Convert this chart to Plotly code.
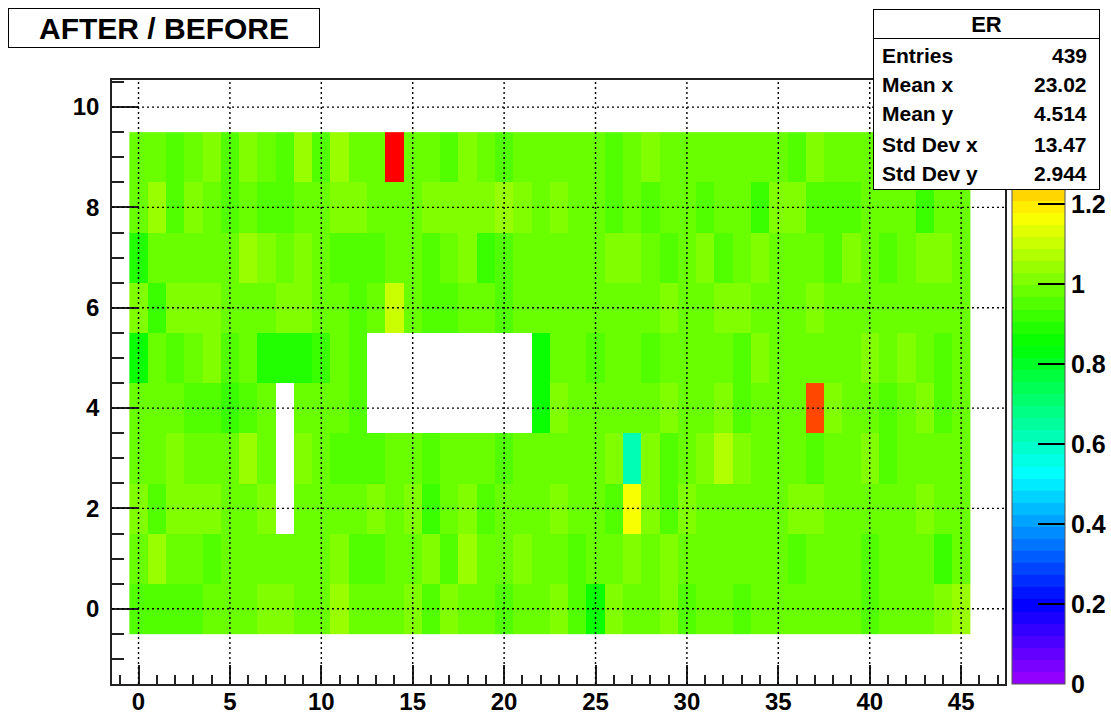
import colorsys
import plotly.graph_objects as go

# ---------------- data ----------------
N = None
x_bins = list(range(46))          # bin centres 0..45
y_bins = list(range(10))          # bin centres 0..9

r0 = [0.95,0.95,0.95,0.95,0.98,0.98,0.98,1.01,1.01,0.98,0.98,1.04,0.98,0.98,0.98,1.01,0.95,1.01,0.98,0.98,0.95,0.98,0.98,
      1.01,0.95,0.86,1.01,0.98,0.98,1.01,0.95,0.98,0.98,0.95,0.98,0.98,0.98,0.98,0.98,0.98,0.95,0.98,0.98,0.98,1.01,1.04]
r1 = [0.98,1.04,0.98,0.98,0.95,0.98,0.98,0.98,0.98,0.98,0.98,1.01,0.95,0.95,0.98,0.98,1.01,0.95,1.04,0.98,0.98,1.01,0.98,
      0.98,0.95,0.98,0.98,1.01,0.98,1.01,0.98,0.98,0.98,0.98,0.98,0.98,0.95,0.98,0.98,0.98,0.95,0.98,0.98,0.98,0.92,0.98]
r2 = [1.01,0.95,1.01,1.01,1.01,0.98,0.98,1.01,N,0.98,0.98,0.98,0.98,1.01,0.98,1.01,0.92,0.98,1.01,0.95,0.98,0.98,0.98,
      1.01,0.98,0.98,0.95,1.16,1.01,0.95,1.01,0.98,0.98,0.98,0.98,0.98,1.01,1.01,0.98,0.98,0.98,0.98,0.98,1.01,0.98,0.98]
r3 = [0.98,0.98,1.01,0.98,0.98,0.98,1.04,0.98,N,1.01,0.98,0.95,0.95,0.95,0.98,0.98,0.95,0.98,0.98,0.98,0.95,0.98,0.98,
      0.98,0.98,0.98,1.01,0.62,1.01,0.95,0.98,1.01,1.07,1.01,0.98,0.98,0.98,0.95,0.98,0.98,1.01,0.95,0.98,0.98,0.98,0.98]
r4 = [0.98,0.98,0.98,0.95,0.95,0.92,0.95,0.98,N,0.98,0.98,0.98,0.95,N,N,N,N,N,N,N,N,N,0.86,
      1.01,0.98,0.98,0.98,0.98,0.98,1.01,0.98,0.98,1.01,0.95,0.98,0.98,0.98,1.41,1.01,0.98,0.98,0.95,0.98,1.01,0.95,0.98]
r5 = [0.86,0.98,0.95,0.98,1.01,0.95,0.98,0.89,0.89,0.89,0.92,0.98,0.95,N,N,N,N,N,N,N,N,N,0.86,
      0.98,0.98,0.95,0.98,0.98,0.95,0.98,0.98,0.98,0.98,0.95,1.01,0.98,0.98,0.98,0.98,0.98,1.01,0.98,1.01,0.98,0.95,0.98]
r6 = [1.01,0.92,1.01,1.01,1.01,0.98,0.98,0.98,1.01,1.01,0.98,0.98,0.95,0.98,1.10,0.98,0.95,0.95,0.98,0.98,0.95,0.98,0.98,
      0.98,0.98,0.98,0.98,0.98,0.98,1.01,0.98,0.98,1.01,1.01,0.98,0.98,0.98,1.01,0.98,0.98,0.98,0.98,0.98,0.98,0.98,0.98]
r7 = [0.89,0.98,0.98,0.98,0.98,0.98,1.04,1.01,0.98,1.01,0.98,0.95,0.95,0.95,0.98,0.98,0.95,0.98,1.01,0.92,0.95,0.98,0.98,
      0.98,0.98,0.98,1.01,1.01,0.98,0.95,0.98,1.01,0.95,0.98,1.01,0.98,0.98,0.98,0.95,1.01,0.98,0.95,0.98,1.01,1.01,0.98]
r8 = [0.98,1.04,0.95,1.01,0.98,0.95,0.98,0.95,0.95,0.98,0.98,1.01,1.01,0.98,0.98,0.98,1.01,1.01,1.01,1.01,1.04,1.01,0.98,
      1.01,0.98,0.98,0.95,0.98,0.95,0.98,0.98,0.95,0.98,0.98,0.92,1.01,1.01,0.95,0.95,0.95,0.98,0.98,0.98,0.92,0.98,0.98]
r9 = [0.98,0.98,0.95,0.98,1.01,0.95,1.01,0.98,0.95,1.04,0.95,1.04,0.98,0.98,1.51,0.98,0.98,0.95,1.01,0.98,0.95,0.98,0.98,
      0.98,0.98,0.98,0.95,0.98,1.01,0.98,0.98,0.98,0.98,0.98,0.98,0.98,0.95,1.01,0.98,0.98,0.98,1.01,0.98,0.98,0.95,0.98]
z_rows = [r0, r1, r2, r3, r4, r5, r6, r7, r8, r9]
for r in z_rows:
    assert len(r) == 46, len(r)

x_ticks = [0, 5, 10, 15, 20, 25, 30, 35, 40, 45]
y_ticks = [0, 2, 4, 6, 8, 10]
cb_ticks = [0, 0.2, 0.4, 0.6, 0.8, 1.0, 1.2]
cb_text = ["0", "0.2", "0.4", "0.6", "0.8", "1", "1.2"]

title_text = "AFTER / BEFORE"
stats_title = "ER"
stat_labels = ["Entries", "Mean x", "Mean y", "Std Dev x", "Std Dev y"]
stat_values = ["439", "23.02", "4.514", "13.47", "2.944"]

# ---------------- style ----------------
FONT = "Liberation Sans"
W, H = 1111, 714
PL, PR, PT, PB = 112, 1005, 80, 684          # plot frame in pixels
XR = [-1.45, 47.4]
YR = [-1.5, 10.54]

def px2x(px):
    return (px - PL) / (PR - PL)

def py2y(py):
    return (PB - py) / (PB - PT)

# ROOT "pretty" palette (SetPalette(1)): 50 colours, hue 280 -> 0
palette = []
for k in range(49):
    h = 280 - (k + 1) * (280 / 50)
    r, g, b = colorsys.hls_to_rgb(h / 360.0, 0.5, 1.0)
    palette.append(f"rgb({round(r*255)},{round(g*255)},{round(b*255)})")
palette.append("rgb(255,0,0)")
colorscale = []
for k, c in enumerate(palette):
    colorscale.append([k / 50, c])
    colorscale.append([(k + 1) / 50, c])

zmax = max(v for row in z_rows for v in row if v is not None)

fig = go.Figure()
fig.add_trace(go.Heatmap(
    x=x_bins, y=y_bins, z=z_rows,
    zmin=0, zmax=zmax, colorscale=colorscale,
    xgap=0, ygap=0, hoverongaps=False,
    colorbar=dict(
        x=px2x(1012), xanchor="left", y=0, yanchor="bottom",
        len=1, lenmode="fraction", thickness=53, thicknessmode="pixels",
        xpad=0, ypad=0, outlinewidth=1, outlinecolor="#555",
        ticks="inside", ticklen=27, tickwidth=1.5, tickcolor="black",
        tickvals=cb_ticks, ticktext=cb_text,
        tickfont=dict(family=FONT, size=25, color="black", weight="bold"),
    ),
))

# dotted grid drawn over the cells (as ROOT does)
shapes = []
grid_line = dict(color="black", width=1.4, dash="2px,3px")
for xv in x_ticks:
    shapes.append(dict(type="line", xref="x", yref="paper", x0=xv, x1=xv, y0=0, y1=1,
                       line=grid_line, layer="above"))
for yv in y_ticks:
    shapes.append(dict(type="line", xref="paper", yref="y", x0=0, x1=1, y0=yv, y1=yv,
                       line=grid_line, layer="above"))

ann = []
# title pave
ann.append(dict(xref="paper", yref="paper", x=px2x(8), y=py2y(8), xanchor="left", yanchor="top",
                text=title_text, showarrow=False, width=310, height=38, align="center", valign="middle",
                bgcolor="white", bordercolor="black", borderwidth=1, borderpad=0,
                font=dict(family=FONT, size=30, color="black", weight="bold")))
# stats box
ann.append(dict(xref="paper", yref="paper", x=px2x(873), y=py2y(9), xanchor="left", yanchor="top",
                text=" ", showarrow=False, width=225, height=179,
                bgcolor="white", bordercolor="black", borderwidth=1, borderpad=0))
ann.append(dict(xref="paper", yref="paper", x=px2x(873), y=py2y(9), xanchor="left", yanchor="top",
                text=stats_title, showarrow=False, width=225, height=28, align="center", valign="middle",
                bordercolor="black", borderwidth=1, borderpad=0,
                font=dict(family=FONT, size=22, color="black", weight="bold")))
row_centres = [55, 84.5, 114, 144, 173.5]
for lab, val, yc in zip(stat_labels, stat_values, row_centres):
    ann.append(dict(xref="paper", yref="paper", x=px2x(880), y=py2y(yc), xanchor="left", yanchor="middle",
                    text=lab, showarrow=False,
                    font=dict(family=FONT, size=21, color="black", weight="bold")))
    ann.append(dict(xref="paper", yref="paper", x=px2x(1089), y=py2y(yc), xanchor="right", yanchor="middle",
                    text=val, showarrow=False,
                    font=dict(family=FONT, size=21, color="black", weight="bold")))

axis_common = dict(
    showgrid=False, zeroline=False, showline=True, mirror=True,
    linecolor="#222", linewidth=1.5, ticks="inside", tickcolor="#222", tickwidth=1.5,
    tickfont=dict(family=FONT, size=24, color="black", weight="bold"),
)
fig.update_layout(
    width=W, height=H,
    margin=dict(l=PL, r=W - PR, t=PT, b=H - PB, autoexpand=False),
    paper_bgcolor="white", plot_bgcolor="white",
    showlegend=False,
    xaxis=dict(range=XR, tickvals=x_ticks, ticklen=19, ticklabelstandoff=-5,
               minor=dict(dtick=1, tick0=0, ticks="inside", ticklen=9, tickcolor="#222", tickwidth=1.5),
               **axis_common),
    yaxis=dict(range=YR, tickvals=y_ticks, ticklen=27, ticklabelstandoff=6,
               minor=dict(dtick=0.5, tick0=0, ticks="inside", ticklen=12, tickcolor="#222", tickwidth=1.5),
               **axis_common),
    shapes=shapes,
    annotations=ann,
)

fig.write_html(
    "out.html",
    config={"displayModeBar": False},
    post_script="document.body.style.margin='0';document.body.style.padding='0';document.body.style.overflow='hidden';",
)
